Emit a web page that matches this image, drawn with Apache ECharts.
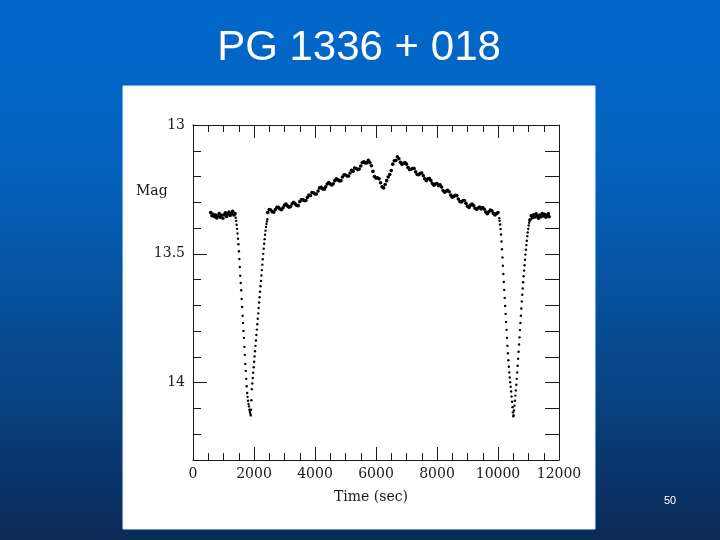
<!DOCTYPE html>
<html><head><meta charset="utf-8">
<script src="https://cdn.jsdelivr.net/npm/echarts@6/dist/echarts.min.js"></script>
<style>html,body{margin:0;padding:0;width:720px;height:540px;overflow:hidden;background:#0a4a90}#c{width:720px;height:540px}</style>
</head><body><div id="c"></div>
<script>
// ---- data (time in s, magnitude) ----
const preT = [580,620,660,700,740,780,820,860,900,940,980,1020,1060,1100,1140,1180,1220,1260,1300,1340,1380];
const preM = [13.340,13.352,13.347,13.356,13.349,13.361,13.353,13.344,13.358,13.350,13.362,13.348,13.341,13.355,13.346,13.338,13.351,13.343,13.335,13.349,13.344];

const ecl1InT = [1400,1415,1430,1445,1460,1475,1490,1505,1520,1535,1550,1565,1580,1595,1610,1625,1640,1655,1670,1685,1700,1715,1730,1745,1760,1775,1790,1805,1820,1835,1850,1865,1880,1895];
const ecl1InM = [13.360,13.372,13.387,13.403,13.421,13.441,13.463,13.490,13.520,13.551,13.585,13.613,13.641,13.675,13.706,13.740,13.768,13.799,13.826,13.861,13.892,13.927,13.954,13.985,14.014,14.040,14.055,14.070,14.083,14.092,14.105,14.114,14.121,14.127];
const ecl1OutT = [1905,1915,1928,1943,1958,1973,1988,2003,2018,2033,2048,2063,2078,2093,2108,2123,2138,2153,2168,2183,2198,2213,2228,2243,2258,2273,2288,2303,2318,2333,2348,2363,2378,2393,2408,2423,2438];
const ecl1OutM = [14.105,14.068,14.025,14.003,13.982,13.961,13.940,13.919,13.898,13.878,13.857,13.836,13.815,13.794,13.773,13.752,13.731,13.710,13.689,13.668,13.647,13.626,13.605,13.584,13.563,13.542,13.521,13.500,13.480,13.461,13.443,13.426,13.410,13.396,13.384,13.374,13.366];

const midT = [2450,2500,2550,2600,2650,2700,2750,2800,2850,2900,2950,3000,3050,3100,3150,3200,3250,3300,3350,3400,3450,3500,3550,3600,3650,3700,3750,3800,3850,3900,3950,4000,4050,4100,4150,4200,4250,4300,4350,4400,4450,4500,4550,4600,4650,4700,4750,4800,4850,4900,4950,5000,5050,5100,5150,5200,5250,5300,5350,5400,5450,5500,5550,5600,5650,5700,5750,5800,5850,5900,5950,6000,6050,6100,6150,6200,6250,6300,6350,6400,6450,6500,6550,6600,6650,6700,6750,6800,6850,6900,6950,7000,7050,7100,7150,7200,7250,7300,7350,7400,7450,7500,7550,7600,7650,7700,7750,7800,7850,7900,7950,8000,8050,8100,8150,8200,8250,8300,8350,8400,8450,8500,8550,8600,8650,8700,8750,8800,8850,8900,8950,9000,9050,9100,9150,9200,9250,9300,9350,9400,9450,9500,9550,9600,9650,9700,9750,9800,9850,9900,9950,10000];
const midM = [13.340,13.328,13.330,13.337,13.338,13.328,13.319,13.319,13.326,13.329,
13.321,13.311,13.307,13.314,13.319,13.316,13.306,13.300,13.306,13.312,
13.313,13.298,13.290,13.290,13.294,13.293,13.281,13.272,13.274,13.262,
13.263,13.268,13.268,13.256,13.244,13.242,13.248,13.249,13.240,13.229,
13.223,13.229,13.233,13.228,13.216,13.209,13.213,13.217,13.216,13.202,
13.193,13.194,13.198,13.198,13.186,13.176,13.179,13.167,13.169,13.173,
13.171,13.159,13.146,13.143,13.147,13.147,13.137,13.146,13.158,13.180,
13.200,13.206,13.205,13.209,13.224,13.240,13.244,13.231,13.216,13.202,
13.192,13.177,13.152,13.139,13.138,13.123,13.131,13.145,13.152,13.149,
13.146,13.152,13.165,13.173,13.172,13.168,13.169,13.182,13.192,13.193,
13.187,13.186,13.197,13.209,13.216,13.209,13.208,13.216,13.227,13.234,
13.229,13.227,13.236,13.232,13.241,13.254,13.261,13.257,13.253,13.259,
13.272,13.280,13.277,13.273,13.274,13.287,13.297,13.299,13.294,13.293,
13.304,13.315,13.320,13.311,13.307,13.313,13.323,13.328,13.322,13.318,
13.326,13.320,13.327,13.338,13.344,13.337,13.330,13.333,13.343,13.349,
13.344,13.340];

const ecl2InT = [10040,10055,10070,10085,10100,10115,10130,10145,10160,10175,10190,10205,10220,10235,10250,10265,10280,10295,10310,10325,10340,10355,10370,10385,10400,10415,10430,10445,10460,10475,10490,10500];
const ecl2InM = [13.362,13.372,13.386,13.404,13.425,13.452,13.482,13.514,13.546,13.578,13.609,13.640,13.671,13.702,13.733,13.764,13.795,13.826,13.857,13.886,13.913,13.938,13.960,13.980,13.998,14.016,14.034,14.054,14.074,14.095,14.115,14.130];
const ecl2OutT = [10510,10525,10540,10555,10570,10585,10600,10615,10630,10645,10660,10675,10690,10705,10720,10735,10750,10765,10780,10795,10810,10825,10840,10855,10870,10885,10900,10915,10930,10945,10960,10975,10990,11005,11020,11035];
const ecl2OutM = [14.126,14.108,14.089,14.070,14.050,14.030,14.008,13.985,13.960,13.934,13.907,13.880,13.852,13.824,13.796,13.768,13.740,13.712,13.685,13.659,13.634,13.610,13.587,13.565,13.544,13.523,13.503,13.484,13.466,13.449,13.432,13.417,13.403,13.390,13.379,13.371];

const postT = [11050,11090,11130,11170,11210,11250,11290,11330,11370,11410,11450,11490,11530,11570,11610,11650,11680];
const postM = [13.368,13.352,13.360,13.348,13.357,13.345,13.354,13.362,13.349,13.356,13.344,13.353,13.347,13.358,13.350,13.345,13.356];

const xTicks = [0,2000,4000,6000,8000,10000,12000];
const yTickLabels = [13,13.5,14];

// ---- build ----
function zip(t, m){ return t.map((v,i)=>[v,m[i]]); }
const contData = [].concat(zip(preT,preM), zip(midT,midM), zip(postT,postM));
const eclData = [].concat(zip(ecl1InT,ecl1InM), zip(ecl1OutT,ecl1OutM), zip(ecl2InT,ecl2InM), zip(ecl2OutT,ecl2OutM));

const ink = '#1a1a1a';
const lineStyle = {color: ink, width: 1};
const serif = '"DejaVu Serif", "Liberation Serif", serif';

function xAx(pos, showLabel){
  return {
    type:'value', position: pos, min: xTicks[0], max: xTicks[xTicks.length-1], interval: 2000,
    axisLine:{show:true, onZero:false, lineStyle},
    axisTick:{show:true, inside:true, length:13, lineStyle},
    minorTick:{show:true, splitNumber:4, length:7, lineStyle},
    splitLine:{show:false}, minorSplitLine:{show:false},
    axisLabel:{show:showLabel, color:ink, fontFamily:serif, fontSize:14, margin:7,
      formatter: v => String(v)}
  };
}
function yAx(pos, interval, len, showLabel){
  return {
    type:'value', position: pos, inverse:true, min:13, max:14.3, interval: interval,
    axisLine:{show:true, onZero:false, lineStyle},
    axisTick:{show:true, inside:true, length:len, lineStyle},
    splitLine:{show:false},
    axisLabel:{show:showLabel, color:ink, fontFamily:serif, fontSize:14, margin:8, showMaxLabel:false,
      formatter: v => (yTickLabels.some(t => Math.abs(t - v) < 1e-6) ? String(v) : '')}
  };
}

const chart = echarts.init(document.getElementById('c'), null, {renderer:'canvas'});
chart.setOption({
  animation:false,
  grid:{left:193, right:161, top:125, bottom:80, containLabel:false},
  xAxis:[xAx('bottom', true), xAx('top', false)],
  yAxis:[yAx('left', 0.1, 8, false), yAx('left', 0.5, 14, true), yAx('right', 0.1, 14, false)],
  graphic:[
    {type:'rect', silent:true, z:-20, shape:{x:0,y:0,width:720,height:540},
     style:{fill: new echarts.graphic.LinearGradient(0,0,0,1,[
       {offset:0,color:'#0068cc'},{offset:0.3,color:'#0462be'},{offset:0.65,color:'#084a8e'},{offset:1,color:'#0b2a58'}])}},
    {type:'rect', silent:true, z:-10, shape:{x:123,y:86,width:472,height:443},
     style:{fill:'#ffffff', stroke:'#dcf6fa', lineWidth:1}},
    {type:'text', z:5, x:359, y:48, style:{text:'PG 1336 + 018', font:'42px "Liberation Sans", Arial, sans-serif',
      fill:'#ffffff', textAlign:'center', textVerticalAlign:'middle',
      shadowColor:'rgba(0,0,0,0.45)', shadowBlur:2, shadowOffsetX:1, shadowOffsetY:1}},
    {type:'text', z:5, x:136, y:191, style:{text:'Mag', font:'14px ' + serif, fill:ink, textAlign:'left', textVerticalAlign:'middle'}},
    {type:'text', z:5, x:371, y:497, style:{text:'Time (sec)', font:'14px ' + serif, fill:ink, textAlign:'center', textVerticalAlign:'middle'}},
    {type:'text', z:5, x:670, y:501, style:{text:'50', font:'11px "Liberation Sans", Arial, sans-serif', fill:'#ffffff', textAlign:'center', textVerticalAlign:'middle'}}
  ],
  series:[
    {type:'scatter', xAxisIndex:0, yAxisIndex:0, data:contData, symbol:'circle', symbolSize:3.6, itemStyle:{color:'#000', opacity:1}, silent:true},
    {type:'scatter', xAxisIndex:0, yAxisIndex:0, data:eclData, symbol:'circle', symbolSize:2.4, itemStyle:{color:'#000', opacity:1}, silent:true}
  ]
});
</script>
</body></html>
